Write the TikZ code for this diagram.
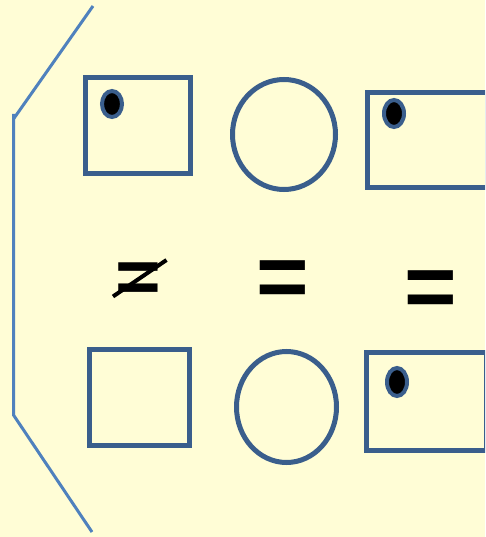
\documentclass[tikz,border=0pt]{standalone}
\usepackage{fontspec}
\setmainfont{Liberation Sans}
\usetikzlibrary{shapes.geometric}
\definecolor{bgyellow}{RGB}{255,253,214}
\definecolor{boxblue}{RGB}{58,94,140}
\definecolor{braceblue}{RGB}{79,129,189}
\tikzset{
  box/.style={draw=boxblue, line width=5pt, rectangle, inner sep=0pt},
  ring/.style={draw=boxblue, line width=5pt, ellipse, inner sep=0pt},
  spot/.style={draw=boxblue, fill=black, line width=4pt, ellipse, inner sep=0pt,
    minimum width=20pt},
  eqsign/.style={inner sep=0pt, font=\fontsize{90}{90}\selectfont\bfseries}
}
\begin{document}
\begin{tikzpicture}[x=1pt, y=-1pt]
  \fill[bgyellow] (0,0) rectangle (485,537);
  \useasboundingbox (0,0) rectangle (485,537);
  \clip (0,0) rectangle (485,537);

  % Klammer links
  \coordinate (top) at (93,6);
  \coordinate (knee1) at (13.5,119);
  \coordinate (knee2) at (13.5,415);
  \coordinate (bottom) at (92,532);
  \draw[braceblue, line width=3pt] (top) -- (knee1);
  \draw[braceblue, line width=3pt] (13.5,114) -- (knee2) -- (bottom);

  % obere Reihe
  \node[box, minimum width=105pt, minimum height=96pt] (box1) at (138,125.5) {};
  \node[spot, minimum height=26pt] (spot1) at (112,104) {};
  \node[ring, minimum width=103pt, minimum height=110pt] (ring1) at (284,134.5) {};
  \node[box, minimum width=120pt, minimum height=95pt] (box2) at (427.5,140) {};
  \node[spot, minimum height=27pt] (spot2) at (394,113.5) {};

  % Vergleiche
  \node[eqsign, scale=0.87] (neq) at (138,283) {=};
  \coordinate (slash1) at (113,296.5);
  \coordinate (slash2) at (166.5,260);
  \draw[line width=4pt] (slash1) -- (slash2);
  \node[eqsign] (eq1) at (283,284) {=};
  \node[eqsign] (eq2) at (430.5,294) {=};

  % untere Reihe
  \node[box, minimum width=100pt, minimum height=96pt] (box3) at (139.5,397.5) {};
  \node[ring, minimum width=100pt, minimum height=111pt] (ring2) at (286.5,407) {};
  \node[box, minimum width=120pt, minimum height=98pt] (box4) at (426.5,401.5) {};
  \node[spot, minimum height=28pt] (spot3) at (397,382) {};
\end{tikzpicture}
\end{document}
